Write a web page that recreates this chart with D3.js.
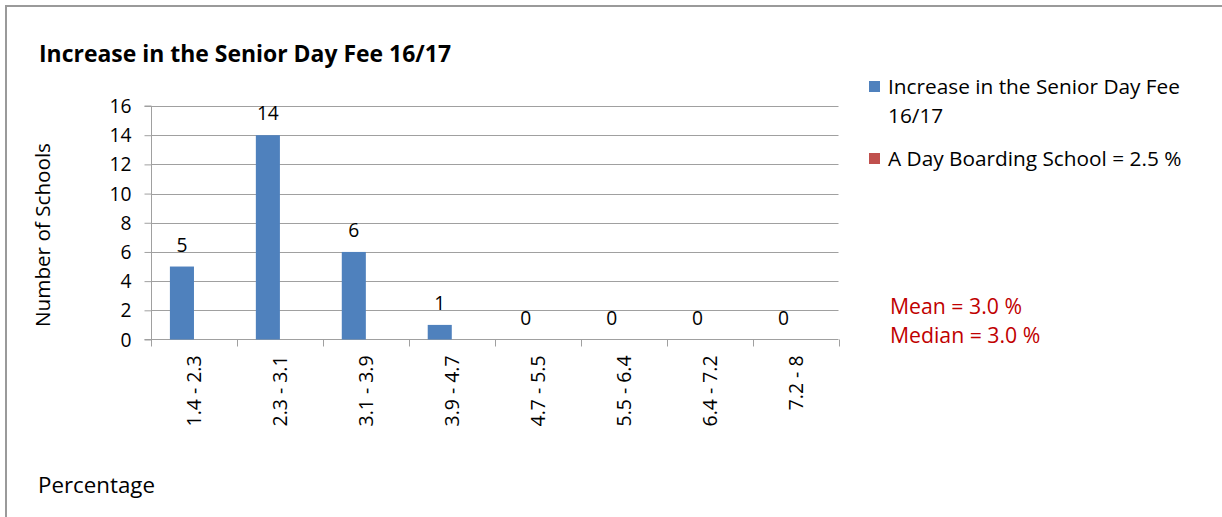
<!DOCTYPE html>
<html><head><meta charset="utf-8">
<script src="https://cdn.jsdelivr.net/npm/d3@7/dist/d3.min.js"></script>
<style>body{margin:0;background:#fff}svg{display:block}text{font-family:"Open Sans",sans-serif}</style>
</head><body>
<script>
const categories = ["1.4 - 2.3","2.3 - 3.1","3.1 - 3.9","3.9 - 4.7","4.7 - 5.5","5.5 - 6.4","6.4 - 7.2","7.2 - 8"];
const seriesIncrease = [5,14,6,1,0,0,0,0];
const seriesDayBoarding = [null,null,null,null,null,null,null,null];
const seriesNames = ["Increase in the Senior Day Fee 16/17","A Day Boarding School = 2.5 %"];
const yTicks = [0,2,4,6,8,10,12,14,16];
const notes = ["Mean = 3.0 %","Median = 3.0 %"];

const W=1222,H=517;
const svg=d3.select("body").append("svg").attr("width",W).attr("height",H);
svg.append("rect").attr("x",6).attr("y",6).attr("width",W+10).attr("height",H+10).attr("fill","#fff").attr("stroke","#9a9a9a").attr("stroke-width",2);

// scale a group of texts so the first one's length matches the target width
function fit(sel, target){
  const n=sel.node(); const fs=parseFloat(sel.attr("font-size"));
  const len=n.getComputedTextLength();
  sel.attr("font-size", (fs*target/len).toFixed(2));
}

const L=151,R=838.5,T=106,B=339.5;
const x=d3.scaleBand().domain(categories).range([L,R]).paddingInner(0.44).paddingOuter(0.22);
const x1=d3.scaleBand().domain([0,1]).range([0,x.bandwidth()]);
const y=d3.scaleLinear().domain([0,16]).range([B,T]);

// gridlines
svg.append("g").selectAll("line").data(yTicks.filter(d=>d>0)).join("line")
 .attr("x1",L).attr("x2",R).attr("y1",d=>Math.round(y(d))+0.5).attr("y2",d=>Math.round(y(d))+0.5)
 .attr("stroke","#a0a0a0").attr("stroke-width",1);

// y axis
const ya=svg.append("g").attr("transform",`translate(${L+0.5},0)`).call(d3.axisLeft(y).tickValues(yTicks).tickSize(7).tickPadding(13));
ya.select(".domain").attr("stroke","#a0a0a0").attr("d",`M-7,${B}H0V${T}H-7`);
ya.selectAll(".tick line").attr("stroke","#a0a0a0");
const yt=ya.selectAll(".tick text").attr("font-size",20).attr("fill","#000").attr("font-family","Open Sans").attr("dy","0.34em");
fit(ya.selectAll(".tick text").filter(d=>d===16),22);
ya.selectAll(".tick text").attr("font-size",ya.selectAll(".tick text").filter(d=>d===16).attr("font-size"));

// x axis
const edges=categories.map((c,i)=>L+i*(R-L)/categories.length).concat([R]);
const xg=svg.append("g");
xg.append("line").attr("x1",L).attr("x2",R).attr("y1",B).attr("y2",B).attr("stroke","#a0a0a0");
xg.selectAll("line.tk").data(edges).join("line").attr("class","tk")
 .attr("x1",d=>Math.round(d)+0.5).attr("x2",d=>Math.round(d)+0.5).attr("y1",B).attr("y2",B+7).attr("stroke","#a0a0a0");
const xl=xg.selectAll("text").data(categories).join("text")
 .attr("transform",d=>`translate(${x(d)+x.bandwidth()/2+7},${B+16}) rotate(-90)`)
 .attr("text-anchor","end").attr("font-size",17).attr("fill","#000").text(d=>d);
fit(xl,71);

// bars
svg.append("g").selectAll("rect").data(seriesIncrease).join("rect")
 .attr("x",(d,i)=>x(categories[i])+x1(0)).attr("width",x1.bandwidth())
 .attr("y",d=>y(d)).attr("height",d=>B-y(d)).attr("fill","#4f81bd");
svg.append("g").selectAll("rect").data(seriesDayBoarding.filter(d=>d!=null)).join("rect")
 .attr("fill","#c0504d");

// data labels
const dl=svg.append("g").selectAll("text").data(seriesIncrease).join("text")
 .attr("x",(d,i)=>x(categories[i])+x1(0)+x1.bandwidth()/2).attr("y",d=>y(d)-15)
 .attr("text-anchor","middle").attr("font-size",20).attr("fill","#000").text(d=>d);
fit(dl.filter((d,i)=>i===1),22);
dl.attr("font-size",dl.filter((d,i)=>i===1).attr("font-size"));

// title
const ti=svg.append("text").attr("x",39).attr("y",62).attr("font-size",22).attr("font-weight","bold").attr("fill","#000").text("Increase in the Senior Day Fee 16/17");
fit(ti,412);
// y label
const yl=svg.append("text").attr("transform","translate(50,235) rotate(-90)").attr("text-anchor","middle").attr("font-size",20).attr("fill","#000").text("Number of Schools");
fit(yl,184);
// x label
const pl=svg.append("text").attr("x",38).attr("y",493).attr("font-size",21).attr("fill","#000").text("Percentage");
fit(pl,117);

// legend
const lg=svg.append("g");
lg.append("rect").attr("x",869).attr("y",81).attr("width",11).attr("height",11).attr("fill","#4f81bd");
const l1=lg.append("text").attr("x",888).attr("y",94).attr("font-size",20).attr("fill","#000").text("Increase in the Senior Day Fee");
fit(l1,292);
const lfs=l1.attr("font-size");
lg.append("text").attr("x",888).attr("y",123).attr("font-size",lfs).attr("fill","#000").text("16/17");
lg.append("rect").attr("x",869).attr("y",153).attr("width",11).attr("height",11).attr("fill","#c0504d");
lg.append("text").attr("x",888).attr("y",166).attr("font-size",lfs).attr("fill","#000").text(seriesNames[1]);

const nt=svg.append("g").selectAll("text").data(notes).join("text")
 .attr("x",890).attr("y",(d,i)=>314+i*29).attr("font-size",20).attr("fill","#c00000").text(d=>d);
fit(nt,132);
</script>
</body></html>
